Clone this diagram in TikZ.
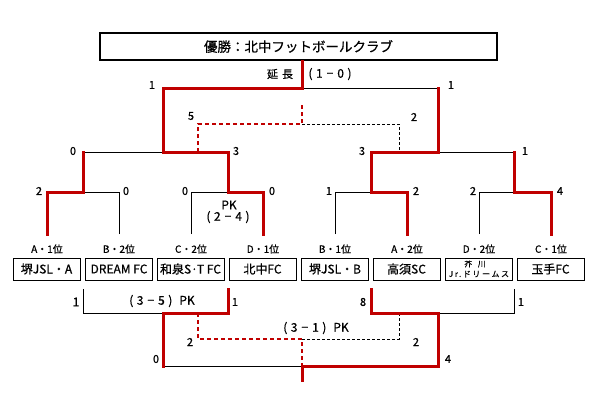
\documentclass[tikz,border=0pt]{standalone}
\usepackage{fontspec}
\setmainfont{Noto Sans CJK JP}[FakeBold=0.6]
\definecolor{wred}{RGB}{192,0,0}
\newcommand{\scr}[2]{{\fontsize{12}{12}\selectfont(\hspace{3.5pt}#1\hspace{4pt}−\hspace{4pt}#2\hspace{3.5pt})}}
\begin{document}
\begin{tikzpicture}[x=1pt,y=-1pt,
 win/.style={draw=wred,line width=3pt,line cap=rect,line join=miter},
 lose/.style={draw=black,line width=1pt},
 wdash/.style={draw=wred,line width=2pt,dash pattern=on 4pt off 3pt},
 ldash/.style={draw=black,line width=0.8pt,dash pattern=on 3pt off 2pt},
 team/.style={draw,line width=1pt,minimum width=67pt,minimum height=22pt,inner sep=0pt,font=\fontsize{12}{12}\selectfont},
 sc/.style={inner sep=0pt,font=\fontsize{11}{11}\selectfont},
 rank/.style={inner sep=0pt,font=\fontsize{10}{10}\selectfont},
 titlebox/.style={draw,line width=2pt,minimum width=397pt,minimum height=27pt,inner sep=0pt,font=\fontsize{13.5}{13.5}\selectfont}]
\useasboundingbox (0,0) rectangle (605,400);
\fill[white] (0,0) rectangle (605,400);
% title
\node[titlebox] (title) at (298.5,46.5) {優勝：北中フットボールクラブ};
% teams
\node[team] (T1) at (46.5,269) {堺JSL・A};
\node[team] (T2) at (119,269) {DREAM FC};
\node[team] (T3) at (190.5,269) {和泉S·T FC};
\node[team] (T4) at (262.5,269) {北中FC};
\node[team] (T5) at (335,269) {堺JSL・B};
\node[team] (T6) at (406.5,269) {高須SC};
\node[team] (T7) at (478.5,269) {};
\node[font=\fontsize{7.5}{7.5}\selectfont,inner sep=0pt] (T7a) at (475,264) {芥\hspace{6pt}川};
\node[font=\fontsize{8}{8}\selectfont\addfontfeature{LetterSpace=20},inner sep=0pt] (T7b) at (479,274) {Jr.ドリームス};
\node[team] (T8) at (550.5,269) {玉手FC};
% rank labels
\node[rank] (R1) at (47,249) {A・1位};
\node[rank] (R2) at (119,249) {B・2位};
\node[rank] (R3) at (191,249) {C・2位};
\node[rank] (R4) at (263,249) {D・1位};
\node[rank] (R5) at (335,249) {B・1位};
\node[rank] (R6) at (407,249) {A・2位};
\node[rank] (R7) at (479,249) {D・2位};
\node[rank] (R8) at (551,249) {C・1位};
% coordinates (upper bracket)
\coordinate (t1) at (47,234); \coordinate (t2) at (119,234);
\coordinate (t3) at (191,234); \coordinate (t4) at (263,234);
\coordinate (t5) at (335,234); \coordinate (t6) at (407,234);
\coordinate (t7) at (479,234); \coordinate (t8) at (551,234);
\coordinate (q1) at (83,192); \coordinate (q2) at (228,192);
\coordinate (q3) at (371,192); \coordinate (q4) at (514,192);
\coordinate (a1) at (83,152); \coordinate (a2) at (228,152);
\coordinate (a3) at (371,152); \coordinate (a4) at (514,152);
\coordinate (s1) at (163,152); \coordinate (s2) at (438,152);
\coordinate (b1) at (163,88); \coordinate (b2) at (438,88);
\coordinate (f) at (302,88);
\coordinate (c1) at (198,152); \coordinate (c2) at (198,124);
\coordinate (c3) at (302,124); \coordinate (c4) at (399,124);
\coordinate (c5) at (399,152); \coordinate (c6) at (302,105);
% black lines
\draw[lose] (t2) |- (q1);
\draw[lose] (a1) -- (s1);
\draw[lose] (t3) |- (q2);
\draw[lose] (f) -- (b2);
\draw[lose] (t5) |- (q3);
\draw[lose] (s2) -- (a4);
\draw[lose] (t7) |- (q4);
\draw[ldash] (c3) -- (c4) -- (c5);
% red lines
\draw[win] (t1) |- (q1) -- (a1);
\draw[win] (t4) |- (q2) -- (a2) -- (s1) -- (b1) -- (f) -- (f |- title.south);
\draw[win] (t6) |- (q3) -- (a3) -- (s2) -- (b2);
\draw[win] (t8) |- (q4) -- (a4);
\draw[wdash] (c1) -- (c2) -- (c3) -- (c6);
% lower bracket coordinates
\coordinate (u1) at (83,289); \coordinate (u2) at (228,289);
\coordinate (u3) at (371,289); \coordinate (u4) at (514,289);
\coordinate (v1) at (83,313); \coordinate (v2) at (228,313);
\coordinate (v3) at (371,313); \coordinate (v4) at (514,313);
\coordinate (vs1) at (163,313); \coordinate (vs2) at (438,313);
\coordinate (w1) at (163,366); \coordinate (w2) at (438,366);
\coordinate (wf) at (302,366); \coordinate (wend) at (302,380);
\coordinate (d1) at (198,313); \coordinate (d2) at (198,339);
\coordinate (d3) at (302,339); \coordinate (d4) at (399,339);
\coordinate (d5) at (399,313);
\draw[lose] (u1) -- (v1) -- (vs1);
\draw[lose] (w1) -- (wf);
\draw[lose] (vs2) -- (v4) -- (u4);
\draw[ldash] (d3) -- (d4) -- (d5);
\draw[win] (u2) -- (v2) -- (vs1) -- (w1);
\draw[win] (u3) -- (v3) -- (vs2) -- (w2) -- (wf) -- (wend);
\draw[wdash] (d1) -- (d2) -- (d3) -- (wf);
% score labels upper
\node[sc] (L1) at (280,74) {延\hspace{4pt}長};
\node[sc] (L2) at (330,74) {\scr{1}{0}};
\node[sc] (L3) at (152,85) {1};
\node[sc] (L4) at (451,85) {1};
\node[sc] (L5) at (191,116) {5};
\node[sc] (L6) at (414,117) {2};
\node[sc] (L7) at (73,151) {0};
\node[sc] (L8) at (236,151) {3};
\node[sc] (L9) at (39,191) {2};
\node[sc] (L10) at (126,191) {0};
\node[sc] (L11) at (185,191) {0};
\node[sc] (L12) at (272,191) {0};
\node[sc,font=\fontsize{12}{12}\selectfont] (L13) at (229,205) {PK};
\node[sc] (L14) at (228,217) {\scr{2}{4}};
\node[sc] (L15) at (362,151) {3};
\node[sc] (L16) at (525,151) {1};
\node[sc] (L17) at (329,191) {1};
\node[sc] (L18) at (416,191) {2};
\node[sc] (L19) at (473,191) {2};
\node[sc] (L20) at (560,191) {4};
% score labels lower
\node[sc,font=\fontsize{12}{12}\selectfont] (M1) at (76,302) {1};
\node[sc,font=\fontsize{12}{12}\selectfont] (M2) at (162,301) {\scr{3}{5}\hspace{7pt}PK};
\node[sc] (M3) at (235,302) {1};
\node[sc] (M4) at (190,342) {2};
\node[sc] (M5) at (156,359) {0};
\node[sc,font=\fontsize{12}{12}\selectfont] (M6) at (316,328) {\scr{3}{1}\hspace{7pt}PK};
\node[sc] (M7) at (363,302) {8};
\node[sc] (M8) at (521,302) {1};
\node[sc] (M9) at (416,342) {2};
\node[sc] (M10) at (448,359) {4};
\end{tikzpicture}
\end{document}
